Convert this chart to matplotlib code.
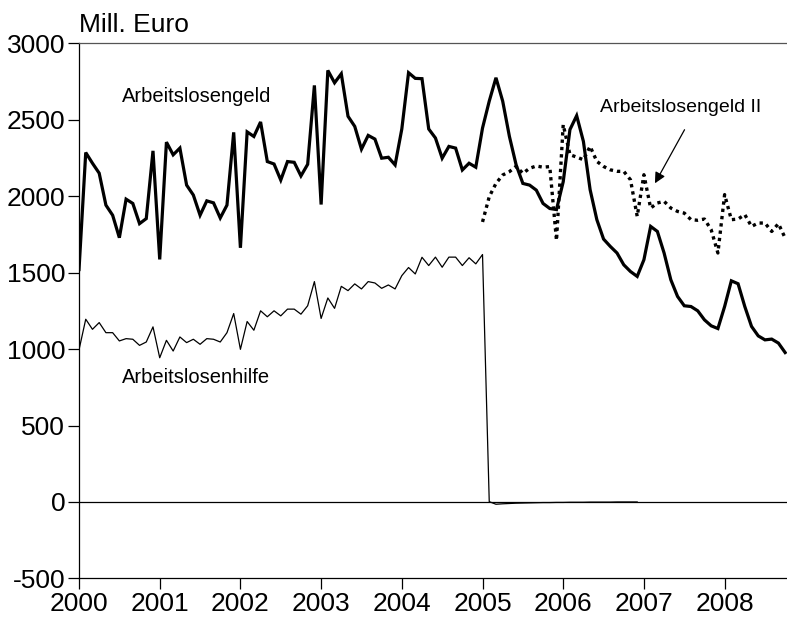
import numpy as np
import matplotlib.pyplot as plt

plt.rcParams['font.family'] = ['Liberation Sans Narrow', 'Liberation Sans', 'DejaVu Sans']
plt.rcParams['axes.unicode_minus'] = False

# Monatswerte in Mill. Euro, Januar 2000 = Monat 0
alg = [1520, 2285, 2215, 2150, 1941, 1875, 1728, 1980, 1952, 1820, 1853, 2296,
       1586, 2353, 2270, 2314, 2072, 2007, 1875, 1969, 1956, 1857, 1941, 2417,
       1662, 2420, 2390, 2485, 2226, 2210, 2105, 2226, 2221, 2132, 2208, 2724,
       1945, 2822, 2741, 2800, 2522, 2456, 2307, 2397, 2373, 2248, 2254, 2204,
       2439, 2807, 2770, 2768, 2439, 2380, 2248, 2325, 2314, 2171, 2215, 2189,
       2445, 2621, 2774, 2621, 2390, 2204, 2083, 2072, 2039, 1952, 1919, 1912,
       2094, 2435, 2526, 2358, 2042, 1846, 1719, 1671, 1628, 1551, 1507, 1475,
       1584, 1802, 1769, 1628, 1453, 1344, 1283, 1278, 1250, 1191, 1152, 1134,
       1278, 1446, 1427, 1278, 1148, 1086, 1060, 1065, 1039, 977]

alhi = [995, 1195, 1129, 1173, 1107, 1107, 1053, 1068, 1064, 1024, 1046, 1145,
        943, 1057, 987, 1079, 1042, 1064, 1031, 1068, 1064, 1046, 1107, 1232,
        998, 1180, 1123, 1250, 1211, 1250, 1217, 1261, 1261, 1228, 1283, 1441,
        1200, 1334, 1266, 1410, 1382, 1426, 1393, 1441, 1432, 1397, 1419, 1393,
        1480, 1533, 1491, 1600, 1546, 1601, 1535, 1601, 1601, 1546, 1597, 1557,
        1618, 2, -15, -12, -10, -8, -7, -6, -5, -4, -4, -3,
        -3, -2, -2, -2, -1, -1, -1, -1, 0, 0, 0, 0]

alg2 = [1831, 1996, 2083, 2138, 2160, 2195, 2149, 2182, 2197, 2189, 2193, 1710,
        2467, 2271, 2255, 2238, 2325, 2227, 2194, 2172, 2162, 2162, 2107, 1868,
        2140, 1922, 1955, 1966, 1922, 1900, 1889, 1846, 1842, 1850, 1780, 1628,
        2010, 1846, 1850, 1879, 1802, 1824, 1824, 1769, 1820, 1726]
alg2_start = 60

years = list(range(2000, 2009))
yticks = list(range(-500, 3001, 500))

t_alg = np.arange(len(alg)) / 12
t_alhi = np.arange(len(alhi)) / 12
t_alg2 = (alg2_start + np.arange(len(alg2))) / 12

fig = plt.figure(figsize=(7.87, 6.26), dpi=100)
ax = fig.add_axes([0.1004, 0.076, 0.8996, 0.855])

ax.axhline(0, color='black', lw=0.9)
ax.plot(t_alg, alg, color='black', lw=2.3, solid_joinstyle='miter')
ax.plot(t_alhi, alhi, color='black', lw=0.9)
ax.plot(t_alg2, alg2, color='black', lw=2.4, linestyle=(0, (1, 1.2)))

ax.set_xlim(0, 8.773)
ax.set_ylim(-500, 3000)
ax.set_xticks(range(len(years)))
ax.set_xticklabels([str(y) for y in years])
ax.set_yticks(yticks)
ax.tick_params(axis='both', direction='out', length=8, width=0.9, labelsize=19, pad=2)
ax.spines['right'].set_visible(False)
for s in ['left', 'bottom', 'top']:
    ax.spines[s].set_linewidth(0.9)
ax.spines['top'].set_color('#555555')

ax.text(0.53, 2650, 'Arbeitslosengeld', fontsize=14.5, va='center', ha='left')
ax.text(0.53, 812, 'Arbeitslosenhilfe', fontsize=14.5, va='center', ha='left')
ax.text(6.46, 2580, 'Arbeitslosengeld II', fontsize=14, va='center', ha='left')
ax.annotate('', xy=(7.12, 2068), xytext=(7.52, 2450),
            arrowprops=dict(arrowstyle='-|>', color='black', lw=0.9, mutation_scale=16))

fig.text(0.1004, 0.96, 'Mill. Euro', fontsize=19, ha='left', va='center')

fig.savefig('out.png', dpi=100)
